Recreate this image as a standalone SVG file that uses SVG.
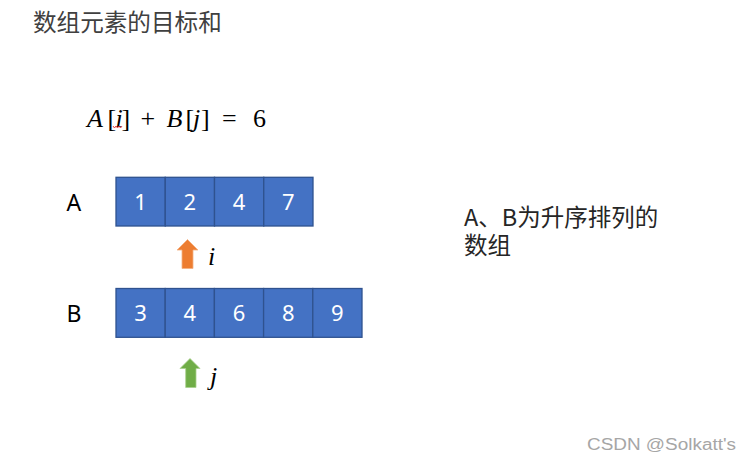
<svg xmlns="http://www.w3.org/2000/svg" width="750" height="460" viewBox="0 0 750 460">
<style>
.cjk{font-family:"Noto Sans CJK SC","Noto Sans",sans-serif;}
.lbl{font-family:"Noto Sans","Noto Sans CJK SC",sans-serif;font-size:23px;fill:#000;}
.cell{fill:#4472C4;stroke:#2F528F;stroke-width:1.3;}
.num{font-family:"Noto Sans","Liberation Sans",sans-serif;font-size:22px;fill:#fff;text-anchor:middle;}
.mi{font-family:"Liberation Serif",serif;font-style:italic;font-size:26px;fill:#000;}
.mu{font-family:"Liberation Serif",serif;font-size:26px;fill:#000;}
</style>
<rect width="750" height="460" fill="#fff"/>
<g id="title"><text class="cjk" x="33" y="31" font-size="23.6" fill="#404040">数组元素的目标和</text></g>
<g id="equation">
<text class="mi" x="87" y="127">A</text>
<text class="mu" x="107.5" y="127">[</text>
<text class="mi" x="115.5" y="127">i</text>
<text class="mu" x="121.5" y="127">]</text>
<text class="mu" x="140.5" y="127">+</text>
<text class="mi" x="166.5" y="127">B</text>
<text class="mu" x="185.5" y="127">[</text>
<text class="mi" x="193" y="127">j</text>
<text class="mu" x="201" y="127">]</text>
<text class="mu" x="222" y="127">=</text>
<text class="mu" x="253" y="127">6</text>
<path d="M113,126 l1.5,2 l1.5,-2 l1.5,2 l1.5,-2 l1.5,2 l1.5,-2" fill="none" stroke="#e03030" stroke-width="0.9"/>
</g>
<g id="labelA"><text class="lbl" x="66.5" y="210.7">A</text></g>
<g id="labelB"><text class="lbl" x="66.5" y="321.7">B</text></g>
<g id="arrayA">
<rect class="cell" x="116" y="177.3" width="49.25" height="48.7"/>
<rect class="cell" x="165.25" y="177.3" width="49.25" height="48.7"/>
<rect class="cell" x="214.5" y="177.3" width="49.25" height="48.7"/>
<rect class="cell" x="263.75" y="177.3" width="49.25" height="48.7"/>
<text class="num" x="140.6" y="209.8">1</text>
<text class="num" x="189.9" y="209.8">2</text>
<text class="num" x="239.1" y="209.8">4</text>
<text class="num" x="288.4" y="209.8">7</text>
</g>
<g id="arrayB">
<rect class="cell" x="116" y="288.5" width="49.2" height="48.8"/>
<rect class="cell" x="165.2" y="288.5" width="49.2" height="48.8"/>
<rect class="cell" x="214.4" y="288.5" width="49.2" height="48.8"/>
<rect class="cell" x="263.6" y="288.5" width="49.2" height="48.8"/>
<rect class="cell" x="312.8" y="288.5" width="49.2" height="48.8"/>
<text class="num" x="140.6" y="321">3</text>
<text class="num" x="189.8" y="321">4</text>
<text class="num" x="239" y="321">6</text>
<text class="num" x="288.2" y="321">8</text>
<text class="num" x="337.4" y="321">9</text>
</g>
<g id="connectors">
<g id="pointer-i">
<path d="M187.5,239.5 L198,250 L193,250 L193,268.5 L182,268.5 L182,250 L177,250 Z" fill="#ED7D31" stroke="#F4B183" stroke-width="0.8"/>
<text class="mi" x="208" y="265" font-size="24">i</text>
</g>
<g id="pointer-j">
<path d="M190,358.5 L200,368.5 L196,368.5 L196,387.5 L185.7,387.5 L185.7,368.5 L180,368.5 Z" fill="#70AD47" stroke="#A9D18E" stroke-width="0.8"/>
<text class="mi" x="210" y="385" font-size="24">j</text>
</g>
</g>
<g id="note">
<text class="cjk" x="464" y="225.5" font-size="23.5" fill="#262626">A、B为升序排列的</text>
<text class="cjk" x="464" y="253.5" font-size="23.5" fill="#262626">数组</text>
</g>
<g id="watermark"><text x="587" y="450" font-family="Liberation Sans, sans-serif" font-size="16" fill="#a6a6a6" textLength="149" lengthAdjust="spacingAndGlyphs">CSDN @Solkatt's</text></g>
</svg>
